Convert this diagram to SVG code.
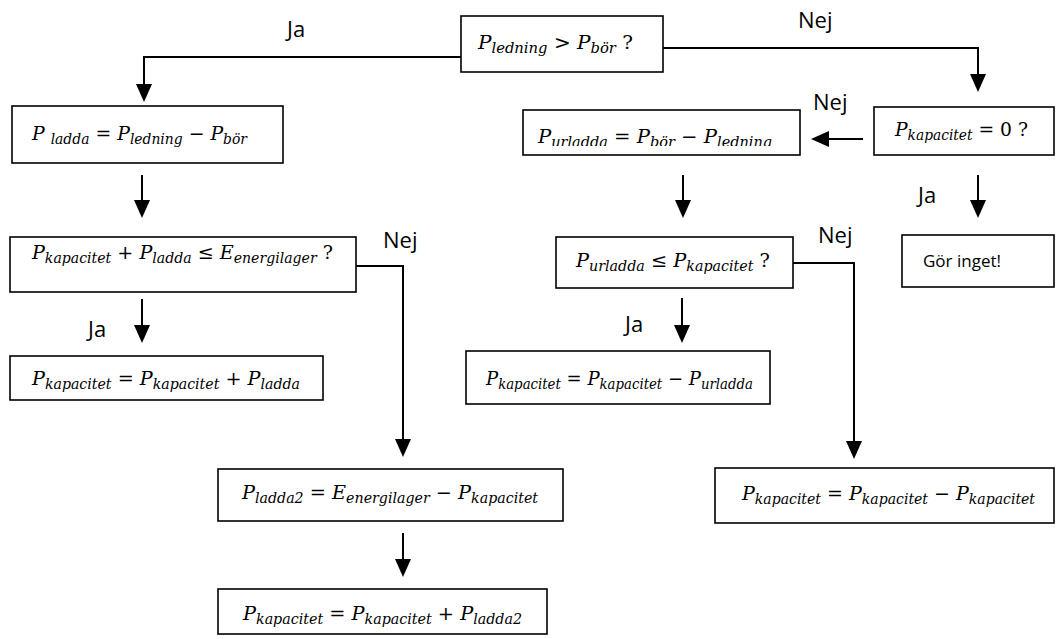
<svg xmlns="http://www.w3.org/2000/svg" width="1057" height="639" viewBox="0 0 1057 639">
<style>
.box{fill:#fff;stroke:#000;stroke-width:1.6}
.con{fill:none;stroke:#000;stroke-width:2;marker-end:url(#arr)}
.m{font-family:"DejaVu Serif","Liberation Serif",serif;font-style:italic;font-size:19px;fill:#000}
.s{font-size:14px}
.n{font-style:normal}
.lbl{font-family:"Open Sans","Liberation Sans",sans-serif;font-size:22px;fill:#000}
.g{font-family:"Open Sans","Liberation Sans",sans-serif;font-size:17px;fill:#000}
</style>
<defs>
<marker id="arr" markerUnits="userSpaceOnUse" markerWidth="18" markerHeight="16" viewBox="0 0 18 16" refX="14" refY="8" orient="auto">
<path d="M0,0 L18,8 L0,16 z" fill="#000"/>
</marker>
<clipPath id="clipG"><rect x="523" y="110" width="277" height="36"/></clipPath>
</defs>
<rect width="1057" height="639" fill="#fff"/>
<g id="connectors">
<path class="con" d="M461,57 H144 V98"/>
<path class="con" d="M663,48 H978 V88"/>
<path class="con" d="M863,139 H815"/>
<path class="con" d="M978,175 V214"/>
<path class="con" d="M683,175 V214"/>
<path class="con" d="M793,263 H854 V455"/>
<path class="con" d="M682,298 V339"/>
<path class="con" d="M142,175 V214"/>
<path class="con" d="M142,299 V339"/>
<path class="con" d="M356,266 H403 V453"/>
<path class="con" d="M403,533 V573"/>
</g>
<g id="labels">
<text class="lbl" x="287" y="37">Ja</text>
<text class="lbl" x="798" y="28">Nej</text>
<text class="lbl" x="813" y="110">Nej</text>
<text class="lbl" x="918" y="203">Ja</text>
<text class="lbl" x="818" y="243">Nej</text>
<text class="lbl" x="383" y="248">Nej</text>
<text class="lbl" x="88" y="337">Ja</text>
<text class="lbl" x="625" y="332">Ja</text>
</g>
<g id="n-top">
<rect class="box" x="461" y="16" width="202" height="56"/>
<text class="m" x="478" y="49" textLength="155" lengthAdjust="spacingAndGlyphs">P<tspan class="s" dy="4">ledning</tspan><tspan class="n" dy="-4"> &gt; </tspan>P<tspan class="s" dy="4">bör</tspan><tspan class="n" dy="-4"> ?</tspan></text>
</g>
<g id="n-ladda">
<rect class="box" x="12" y="106" width="271" height="57"/>
<text class="m" x="32" y="140" textLength="215" lengthAdjust="spacingAndGlyphs">P <tspan class="s" dy="4">ladda</tspan><tspan class="n" dy="-4"> = </tspan>P<tspan class="s" dy="4">ledning</tspan><tspan class="n" dy="-4"> − </tspan>P<tspan class="s" dy="4">bör</tspan></text>
</g>
<g id="n-check-ladda">
<rect class="box" x="10" y="237" width="346" height="55"/>
<text class="m" x="32" y="259" textLength="301" lengthAdjust="spacingAndGlyphs">P<tspan class="s" dy="4">kapacitet</tspan><tspan class="n" dy="-4"> + </tspan>P<tspan class="s" dy="4">ladda</tspan><tspan class="n" dy="-4"> ≤ </tspan>E<tspan class="s" dy="4">energilager</tspan><tspan class="n" dy="-4"> ?</tspan></text>
</g>
<g id="n-kap-plus">
<rect class="box" x="10" y="356" width="313" height="44"/>
<text class="m" x="32" y="385" textLength="268" lengthAdjust="spacingAndGlyphs">P<tspan class="s" dy="4">kapacitet</tspan><tspan class="n" dy="-4"> = </tspan>P<tspan class="s" dy="4">kapacitet</tspan><tspan class="n" dy="-4"> + </tspan>P<tspan class="s" dy="4">ladda</tspan></text>
</g>
<g id="n-ladda2">
<rect class="box" x="218" y="469" width="345" height="52"/>
<text class="m" x="242" y="499" textLength="296" lengthAdjust="spacingAndGlyphs">P<tspan class="s" dy="4">ladda2</tspan><tspan class="n" dy="-4"> = </tspan>E<tspan class="s" dy="4">energilager</tspan><tspan class="n" dy="-4"> − </tspan>P<tspan class="s" dy="4">kapacitet</tspan></text>
</g>
<g id="n-kap-plus2">
<rect class="box" x="218" y="589" width="329" height="45"/>
<text class="m" x="243" y="620" textLength="279" lengthAdjust="spacingAndGlyphs">P<tspan class="s" dy="4">kapacitet</tspan><tspan class="n" dy="-4"> = </tspan>P<tspan class="s" dy="4">kapacitet</tspan><tspan class="n" dy="-4"> + </tspan>P<tspan class="s" dy="4">ladda2</tspan></text>
</g>
<g id="n-urladda">
<rect class="box" x="523" y="110" width="277" height="45"/>
<text class="m" x="538" y="143" textLength="234" lengthAdjust="spacingAndGlyphs" clip-path="url(#clipG)">P<tspan class="s" dy="4">urladda</tspan><tspan class="n" dy="-4"> = </tspan>P<tspan class="s" dy="4">bör</tspan><tspan class="n" dy="-4"> − </tspan>P<tspan class="s" dy="4">ledning</tspan></text>
</g>
<g id="n-check-urladda">
<rect class="box" x="556" y="237" width="237" height="51"/>
<text class="m" x="576" y="267" textLength="194" lengthAdjust="spacingAndGlyphs">P<tspan class="s" dy="4">urladda</tspan><tspan class="n" dy="-4"> ≤ </tspan>P<tspan class="s" dy="4">kapacitet</tspan><tspan class="n" dy="-4"> ?</tspan></text>
</g>
<g id="n-kap-zero">
<rect class="box" x="874" y="107" width="180" height="48"/>
<text class="m" x="895" y="136" textLength="133" lengthAdjust="spacingAndGlyphs">P<tspan class="s" dy="4">kapacitet</tspan><tspan class="n" dy="-4"> = 0 ?</tspan></text>
</g>
<g id="n-gor-inget">
<rect class="box" x="902" y="235" width="152" height="52"/>
<text class="g" x="923" y="267">Gör inget!</text>
</g>
<g id="n-kap-minus">
<rect class="box" x="466" y="351" width="304" height="53"/>
<text class="m" x="486" y="385" textLength="267" lengthAdjust="spacingAndGlyphs">P<tspan class="s" dy="4">kapacitet</tspan><tspan class="n" dy="-4"> = </tspan>P<tspan class="s" dy="4">kapacitet</tspan><tspan class="n" dy="-4"> − </tspan>P<tspan class="s" dy="4">urladda</tspan></text>
</g>
<g id="n-kap-minus-kap">
<rect class="box" x="715" y="468" width="339" height="55"/>
<text class="m" x="742" y="500" textLength="293" lengthAdjust="spacingAndGlyphs">P<tspan class="s" dy="4">kapacitet</tspan><tspan class="n" dy="-4"> = </tspan>P<tspan class="s" dy="4">kapacitet</tspan><tspan class="n" dy="-4"> − </tspan>P<tspan class="s" dy="4">kapacitet</tspan></text>
</g>
</svg>
